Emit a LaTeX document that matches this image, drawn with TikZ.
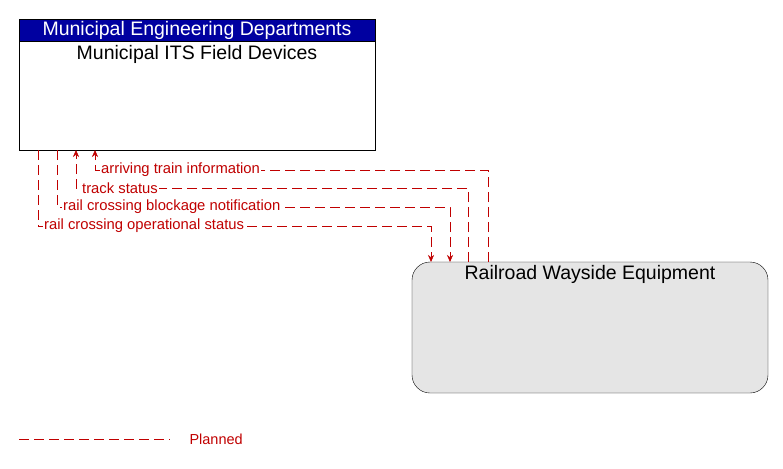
\documentclass[tikz,border=0pt]{standalone}
\usepackage{fontspec}
\setmainfont{Liberation Sans}
\usetikzlibrary{arrows.meta}
\definecolor{flowred}{RGB}{192,0,0}
\definecolor{headblue}{RGB}{0,0,160}
\definecolor{boxgray}{RGB}{229,229,229}
\begin{document}
\begin{tikzpicture}[x=1pt,y=-1pt,
        flow/.style = {draw=flowred, dash pattern=on 10pt off 5pt, -{Stealth[length=7pt,width=6pt]}},
        flowlabel/.style = {text=flowred, font=\fontsize{14.8}{16}\selectfont, inner sep=1pt, fill=white, anchor=west}]

        \useasboundingbox (0,0) rectangle (783,468);

        % Municipal ITS Field Devices
        \draw[fill=white] (19,19) rectangle (375,150);
        \draw[fill=headblue] (19,19) rectangle (375,41);
        \node[white, font=\fontsize{19.5}{21}\selectfont] (head) at (197,30) {Municipal Engineering Departments};
        \node[font=\fontsize{19.5}{21}\selectfont] (its) at (197,54) {Municipal ITS Field Devices};

        % Railroad Wayside Equipment
        \draw[fill=boxgray, rounded corners=18pt] (412,262) rectangle (768,393);
        \node[font=\fontsize{19.5}{21}\selectfont] (rwe) at (590,274) {Railroad Wayside Equipment};

        % Flows
        \draw[flow] (488,262) -- (488,170) -- (95,170) -- (95,150);
        \node[flowlabel] (l1) at (100,170) {arriving train information};
        \draw[flow] (468,262) -- (468,188) -- (76,188) -- (76,150);
        \node[flowlabel] (l2) at (81,188) {track status};
        \draw[flow] (57,150) -- (57,207) -- (450,207) -- (450,262);
        \node[flowlabel] (l3) at (62,207) {rail crossing blockage notification};
        \draw[flow] (38,150) -- (38,226) -- (431,226) -- (431,262);
        \node[flowlabel] (l4) at (43,226) {rail crossing operational status};

        % Legend
        \draw[flowred, dash pattern=on 10pt off 5pt] (19,439) -- (170,439);
        \node[text=flowred, anchor=west, font=\fontsize{14.5}{16}\selectfont] (planned) at (186,439) {Planned};
\end{tikzpicture}
\end{document}
